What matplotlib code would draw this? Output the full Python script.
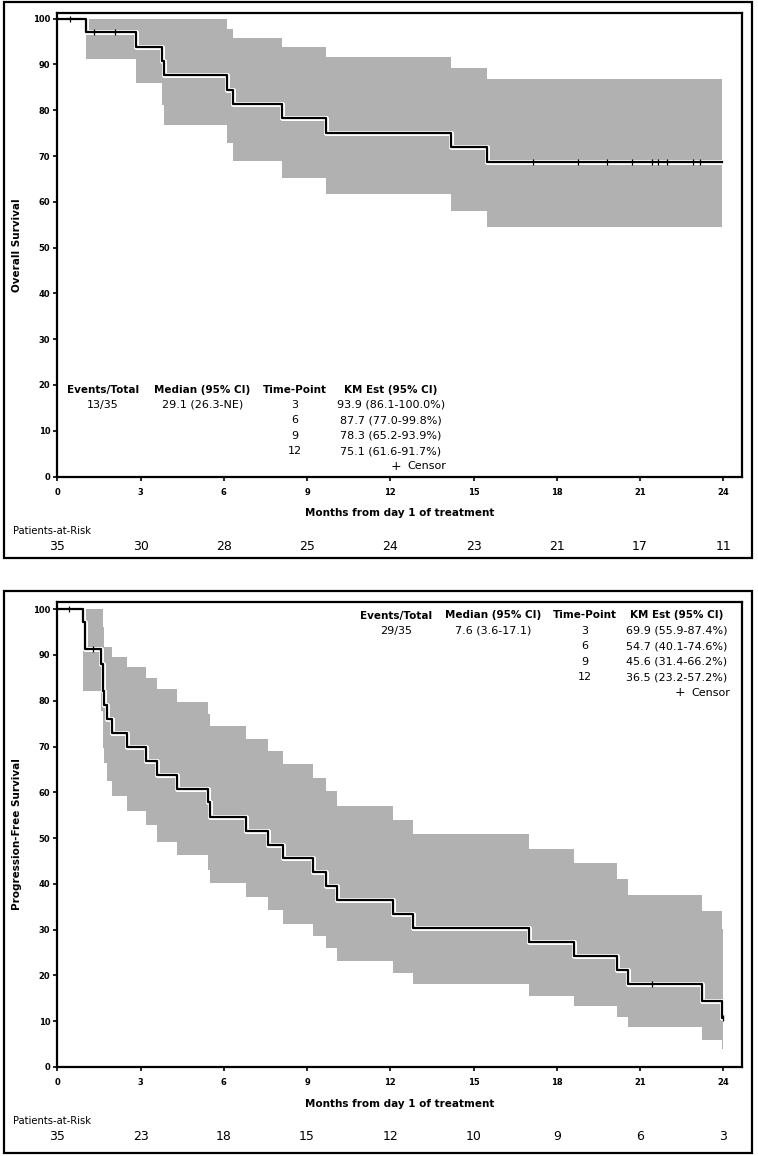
import matplotlib
matplotlib.use('Agg')
import matplotlib.pyplot as plt
import matplotlib.patheffects as pe
from matplotlib.patches import Rectangle

# ---- overall survival (percent), value holds from each time onward
os_time = [0, 1.03, 2.82, 3.76, 3.85, 6.10, 6.34, 8.11, 9.68, 14.18, 15.47]
os_surv = [100, 97.1, 93.9, 90.8, 87.7, 84.5, 81.4, 78.3, 75.1, 72.0, 68.8]
os_lower = [100, 91.3, 85.9, 81.1, 76.8, 72.8, 68.9, 65.2, 61.6, 58.1, 54.5]
os_upper = [100, 100, 100, 100, 100, 97.7, 95.7, 93.8, 91.6, 89.2, 86.8]
os_last = 23.94
os_censor = [0.46, 1.32, 2.08, 17.15, 18.77, 19.80, 20.70, 21.42, 21.66,
             21.96, 22.92, 23.16]
os_risk = [35, 30, 28, 25, 24, 23, 21, 17, 11]
os_events = '13/35'
os_median = '29.1 (26.3-NE)'
os_km = ['93.9 (86.1-100.0%)', '87.7 (77.0-99.8%)',
         '78.3 (65.2-93.9%)', '75.1 (61.6-91.7%)']

# ---- progression-free survival
pfs_time = [0, 0.91, 1.00, 1.56, 1.63, 1.70, 1.78, 1.96, 2.52, 3.20, 3.60,
            4.30, 5.42, 5.50, 6.79, 7.60, 8.12, 9.23, 9.67, 10.09, 12.09,
            12.81, 17.01, 18.62, 20.16, 20.58, 23.22, 23.94]
pfs_surv = [100, 97.1, 91.2, 88.1, 82.2, 79.0, 76.1, 72.9, 69.9, 66.9, 63.8,
            60.8, 57.8, 54.7, 51.6, 48.6, 45.6, 42.5, 39.5, 36.5, 33.5,
            30.4, 27.3, 24.2, 21.2, 18.2, 14.4, 10.8]
pfs_lower = [100, 82.2, 82.2, 77.7, 69.7, 66.3, 62.5, 59.2, 56.0, 52.8, 49.2,
             46.3, 43.0, 40.1, 37.2, 34.3, 31.2, 28.6, 25.9, 23.2, 20.6,
             18.1, 15.6, 13.3, 11.0, 8.8, 6.0, 3.9]
pfs_upper = [100, 100, 100, 100, 96.1, 91.8, 91.8, 89.6, 87.4, 84.9, 82.5,
             79.8, 77.2, 74.5, 71.6, 69.0, 66.1, 63.2, 60.3, 57.1, 53.9,
             51.0, 47.6, 44.5, 41.0, 37.6, 34.1, 30.1]
pfs_last = 23.98
pfs_censor = [0.43, 1.30, 21.42, 23.98]
pfs_risk = [35, 23, 18, 15, 12, 10, 9, 6, 3]
pfs_events = '29/35'
pfs_median = '7.6 (3.6-17.1)'
pfs_km = ['69.9 (55.9-87.4%)', '54.7 (40.1-74.6%)',
          '45.6 (31.4-66.2%)', '36.5 (23.2-57.2%)']

time_points = [3, 6, 9, 12]
month_ticks = [0, 3, 6, 9, 12, 15, 18, 21, 24]
headers = ['Events/Total', 'Median (95% CI)', 'Time-Point', 'KM Est (95% CI)']

W, H = 758, 1156
plt.rcParams['font.family'] = ['DejaVu Sans']
fig = plt.figure(figsize=(W / 100, H / 100), dpi=100)


def fx(x):
    return x / W


def fy(y):
    return 1 - y / H


def step_value(times, values, t):
    v = values[0]
    for ti, vi in zip(times, values):
        if ti <= t:
            v = vi
    return v


def km_panel(frame, ax_top, ax_bot, times, surv, lower, upper, t_last,
             censor, ylabel, risk, cols, row0, plus_x, events, median, km):
    # outer box around the whole panel
    fig.add_artist(Rectangle((fx(frame[0]), fy(frame[3])),
                             fx(frame[2] - frame[0]), (frame[3] - frame[1]) / H,
                             transform=fig.transFigure, fill=False,
                             lw=1.6, ec='black'))
    left, right = 57.3, 742
    ax = fig.add_axes([fx(left), fy(ax_bot), fx(right - left),
                       (ax_bot - ax_top) / H])
    t = list(times) + [t_last]
    ax.fill_between(t, list(lower) + [lower[-1]], list(upper) + [upper[-1]],
                    step='post', color='#b1b1b1', lw=0)
    ax.step(t, list(surv) + [surv[-1]], where='post', color='black', lw=1.6,
            path_effects=[pe.Stroke(linewidth=3.6, foreground='white'),
                          pe.Normal()])
    cy = [step_value(times, surv, c) for c in censor]
    ax.plot(censor, cy, ls='none', marker='|', ms=4.5, mew=0.9,
            color='black')

    ax.set_xlim(0, 24.67)
    ax.set_ylim(0, 100 * (ax_bot - ax_top) / 457.8)
    ax.set_xticks(month_ticks)
    ax.set_yticks(range(0, 101, 10))
    for s in ax.spines.values():
        s.set_linewidth(1.6)
    ax.tick_params(direction='out', length=3, width=1.2, labelsize=6)
    ax.tick_params(axis='x', pad=5)
    ax.tick_params(axis='y', pad=2)
    for lab in ax.get_xticklabels() + ax.get_yticklabels():
        lab.set_fontweight('bold')
    ax.set_ylabel(ylabel, fontsize=7.5, fontweight='bold')
    ax.yaxis.set_label_coords(-0.052, 0.5)

    # x label and patients at risk below the axes
    fig.text(fx((left + right) / 2), fy(ax_bot + 37),
             'Months from day 1 of treatment', ha='center', va='center',
             fontsize=7.5, fontweight='bold')
    fig.text(fx(13), fy(ax_bot + 54), 'Patients-at-Risk', ha='left',
             va='center', fontsize=7.2)
    for m, n in zip(month_ticks, risk):
        fig.text(fx(left + m * 27.75), fy(ax_bot + 69.5), str(n),
                 ha='center', va='center', fontsize=9)

    # summary table
    dy = 15.4
    for cx, h in zip(cols, headers):
        fig.text(fx(cx), fy(row0), h, ha='center', va='center',
                 fontsize=7.5, fontweight='bold')
    fig.text(fx(cols[0]), fy(row0 + dy), events, ha='center', va='center',
             fontsize=8)
    fig.text(fx(cols[1]), fy(row0 + dy), median, ha='center', va='center',
             fontsize=8)
    for i, (tp, est) in enumerate(zip(time_points, km)):
        yy = fy(row0 + dy * (i + 1))
        fig.text(fx(cols[2]), yy, str(tp), ha='center', va='center',
                 fontsize=8)
        fig.text(fx(cols[3]), yy, est, ha='center', va='center', fontsize=8)
    yy = fy(row0 + dy * 5)
    fig.text(fx(plus_x), yy, '+', ha='center', va='center', fontsize=9)
    fig.text(fx(plus_x + 11), yy, 'Censor', ha='left', va='center',
             fontsize=8)
    return ax


km_panel((4, 2, 752, 558), 13, 476.5, os_time, os_surv, os_lower, os_upper,
         os_last, os_censor, 'Overall Survival', os_risk,
         [103, 202.5, 294.5, 391], 389.5, 396, os_events, os_median, os_km)
km_panel((4, 591, 752, 1153), 602, 1067, pfs_time, pfs_surv, pfs_lower,
         pfs_upper, pfs_last, pfs_censor, 'Progression-Free Survival',
         pfs_risk, [396, 493.5, 585, 677], 615.5, 680, pfs_events,
         pfs_median, pfs_km)

fig.savefig('out.png', dpi=100)
